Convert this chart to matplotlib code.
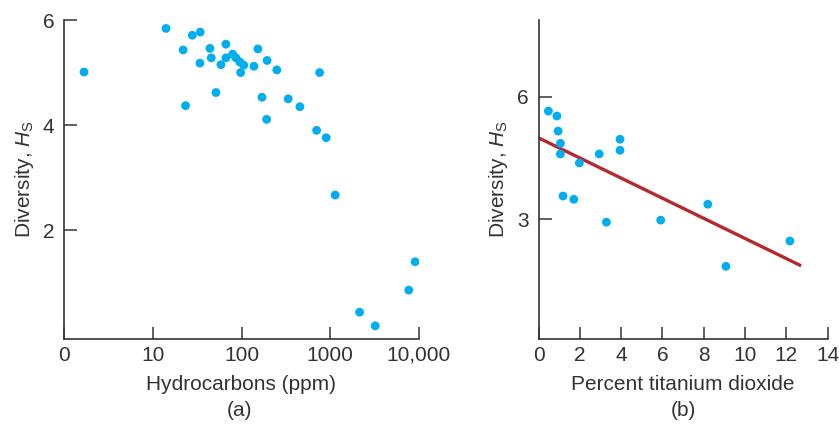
import matplotlib
matplotlib.use("Agg")
import matplotlib.pyplot as plt

plt.rcParams['font.family'] = ['Liberation Sans', 'DejaVu Sans']
plt.rcParams['mathtext.fontset'] = 'custom'
plt.rcParams['mathtext.rm'] = 'Liberation Sans'
plt.rcParams['mathtext.it'] = 'Liberation Sans:italic'

# Panel (a): hydrocarbons (ppm) vs diversity
hydro_ppm = [1.68, 14.1, 22.0, 27.9, 34.3, 23.4, 44.1, 66.7, 34.0, 45.6, 66.7,
             58.6, 79.4, 86.5, 95.9, 106, 97.7, 138, 153, 194, 250, 759,
             51.5, 170, 336, 455, 192, 702, 899, 1135, 9040, 7670, 2140, 3210]
div_a = [5.01, 5.84, 5.43, 5.71, 5.77, 4.37, 5.46, 5.54, 5.18, 5.28, 5.28,
         5.15, 5.35, 5.28, 5.20, 5.14, 5.00, 5.12, 5.45, 5.23, 5.05, 5.00,
         4.62, 4.53, 4.50, 4.35, 4.11, 3.90, 3.76, 2.67, 1.40, 0.86, 0.44, 0.18]
a_ticks = [1, 10, 100, 1000, 10000]
a_ticklabels = ['0', '10', '100', '1000', '10,000']
a_yticks = [2, 4, 6]

# Panel (b): percent titanium dioxide vs diversity
tio2 = [0.48, 0.89, 0.95, 1.06, 1.06, 1.98, 2.94, 3.95, 3.95, 1.19, 1.71,
        3.29, 5.92, 8.20, 12.18, 9.08]
div_b = [5.65, 5.53, 5.16, 4.86, 4.60, 4.38, 4.60, 4.96, 4.69, 3.57, 3.49,
         2.93, 2.98, 3.37, 2.47, 1.85]
fit_x = [0.1, 12.65]
fit_y = [4.97, 1.88]
b_xticks = [0, 2, 4, 6, 8, 10, 12, 14]
b_yticks = [3, 6]

dot_color = '#00aeef'
line_color = '#b5292e'
text_color = '#333333'
spine_color = '#333333'
FS = 15

W, H = 839, 428
fig = plt.figure(figsize=(W / 100, H / 100), dpi=100)

def ax_rect(x0, x1, y0, y1):
    return [x0 / W, 1 - y1 / H, (x1 - x0) / W, (y1 - y0) / H]

ax1 = fig.add_axes(ax_rect(64, 419, 20, 339))
ax2 = fig.add_axes(ax_rect(538.5, 827.5, 20, 339))

for ax in (ax1, ax2):
    for s in ('top', 'right'):
        ax.spines[s].set_visible(False)
    for s in ('left', 'bottom'):
        ax.spines[s].set_color(spine_color)
        ax.spines[s].set_linewidth(1.2)
    ax.tick_params(direction='in', length=9, width=1.2, colors='#444444',
                   labelcolor=text_color, labelsize=FS)
    ax.tick_params(axis='y', pad=7)
    ax.tick_params(axis='x', pad=5)

# Panel (a)
ax1.scatter(hydro_ppm, div_a, s=40, color=dot_color, edgecolors='none', zorder=3)
ax1.set_xscale('log')
ax1.set_xlim(1, 10000)
ax1.set_ylim(-0.07, 6)
ax1.set_xticks(a_ticks)
ax1.set_xticklabels(a_ticklabels)
ax1.minorticks_off()
ax1.set_yticks(a_yticks)
ax1.set_yticklabels([str(v) for v in a_yticks])
ax1.set_xlabel('Hydrocarbons (ppm)', fontsize=FS, color=text_color, labelpad=7)
ax1.set_ylabel(r'Diversity, $\mathit{H}_\mathrm{S}$', fontsize=FS, color=text_color, labelpad=5)

# Panel (b)
ax2.scatter(tio2, div_b, s=40, color=dot_color, edgecolors='none', zorder=3)
ax2.plot(fit_x, fit_y, color=line_color, linewidth=2.4, zorder=2)
ax2.set_xlim(0, 14)
ax2.set_ylim(0.07, 7.88)
ax2.set_xticks(b_xticks)
ax2.set_xticklabels([str(v) for v in b_xticks])
ax2.set_yticks(b_yticks)
ax2.set_yticklabels([str(v) for v in b_yticks])
ax2.set_xlabel('Percent titanium dioxide', fontsize=FS, color=text_color, labelpad=7)
ax2.set_ylabel(r'Diversity, $\mathit{H}_\mathrm{S}$', fontsize=FS, color=text_color, labelpad=5)

fig.text(240 / W, 1 - 410 / H, '(a)', ha='center', va='center', fontsize=FS, color=text_color)
fig.text(683 / W, 1 - 410 / H, '(b)', ha='center', va='center', fontsize=FS, color=text_color)

fig.savefig('out.png', dpi=100, facecolor='white')
